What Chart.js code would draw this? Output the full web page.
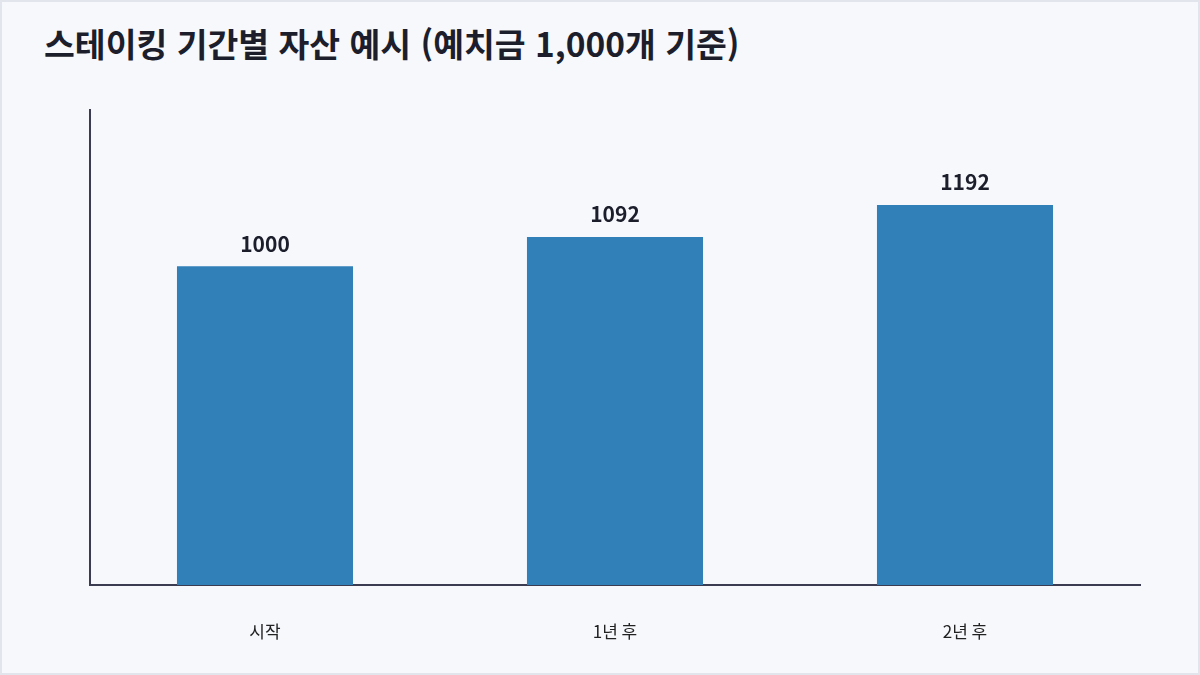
<!DOCTYPE html>
<html lang="ko">
<head>
    <meta charset="UTF-8">
    <title>스테이킹 기간별 자산 예시</title>
    <script src="https://cdn.jsdelivr.net/npm/chart.js"></script>
    <style>
        body {
            margin: 0;
            background: #ffffff;
            font-family: "Noto Sans CJK KR", "Noto Sans", sans-serif;
        }
        .frame {
            position: relative;
            width: 1200px;
            height: 675px;
            box-sizing: border-box;
            border: 2px solid #e2e5ec;
            background: #f7f8fc;
        }
        .title {
            position: absolute;
            left: 42px;
            top: 16px;
            font-size: 33.5px;
            font-weight: 700;
            color: #1d1e2c;
            white-space: nowrap;
        }
        .chart-box {
            position: absolute;
            left: -2px;
            top: -2px;
            width: 1200px;
            height: 675px;
        }
    </style>
</head>
<body>
    <div class="frame">
        <div class="title">스테이킹 기간별 자산 예시 (예치금 1,000개 기준)</div>
        <div class="chart-box">
            <canvas id="stakeChart"></canvas>
        </div>
    </div>

    <script>
        const periods = ['시작', '1년 후', '2년 후'];
        const assets = [1000, 1092, 1192];
        const yMax = 1490;

        // value labels above each bar
        const barLabels = {
            id: 'barLabels',
            afterDatasetsDraw(chart) {
                const ctx = chart.ctx;
                const meta = chart.getDatasetMeta(0);
                ctx.save();
                ctx.font = 'bold 21px "Noto Sans CJK KR", sans-serif';
                ctx.fillStyle = '#1d1e2c';
                ctx.textAlign = 'center';
                ctx.textBaseline = 'bottom';
                meta.data.forEach((bar, i) => {
                    ctx.fillText(String(chart.data.datasets[0].data[i]), bar.x, bar.y - 12);
                });
                ctx.restore();
            }
        };

        const ctx = document.getElementById('stakeChart').getContext('2d');
        new Chart(ctx, {
            type: 'bar',
            data: {
                labels: periods,
                datasets: [{
                    data: assets,
                    backgroundColor: '#3181b8',
                    categoryPercentage: 1,
                    barPercentage: 0.503
                }]
            },
            options: {
                responsive: true,
                maintainAspectRatio: false,
                animation: false,
                layout: {
                    padding: { left: 90, right: 60, top: 110, bottom: 0 }
                },
                plugins: {
                    legend: { display: false },
                    tooltip: { enabled: false }
                },
                scales: {
                    x: {
                        grid: { display: false, drawTicks: false },
                        border: { color: '#3b3b52', width: 2 },
                        ticks: {
                            color: '#222222',
                            padding: 36,
                            font: { family: '"Noto Sans CJK KR", sans-serif', size: 17 }
                        },
                        afterFit(scale) { scale.height = 90; }
                    },
                    y: {
                        min: 0,
                        max: yMax,
                        grid: { display: false, drawTicks: false },
                        border: { color: '#3b3b52', width: 2 },
                        ticks: { display: false },
                        afterFit(scale) { scale.width = 0; }
                    }
                }
            },
            plugins: [barLabels]
        });
    </script>
</body>
</html>
